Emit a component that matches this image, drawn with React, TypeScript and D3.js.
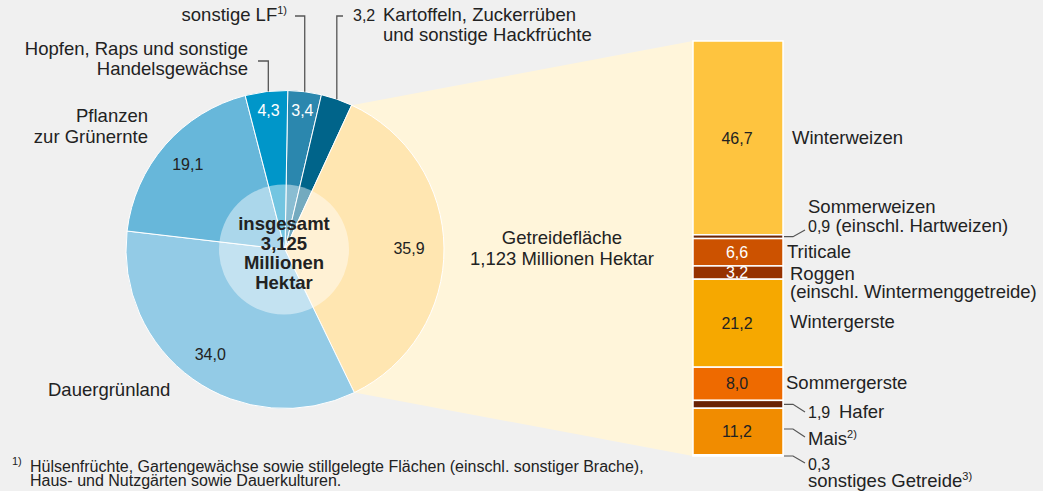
import React from "react";
import * as d3 from "d3";

// ---------- data ----------
const pieCategories = [
  "sonstige LF",
  "Kartoffeln, Zuckerrüben und sonstige Hackfrüchte",
  "Getreidefläche",
  "Dauergrünland",
  "Pflanzen zur Grünernte",
  "Hopfen, Raps und sonstige Handelsgewächse",
];
const pieValues = [3.4, 3.2, 35.9, 34.0, 19.1, 4.3];
const pieColors = ["#2b87ae", "#00648a", "#ffe6b1", "#93cbe6", "#67b7da", "#0096c9"];

const barCategories = [
  "Winterweizen",
  "Sommerweizen",
  "Triticale",
  "Roggen",
  "Wintergerste",
  "Sommergerste",
  "Hafer",
  "Mais",
  "sonstiges Getreide",
];
const barValues = [46.7, 0.9, 6.6, 3.2, 21.2, 8.0, 1.9, 11.2, 0.3];
const barColors = ["#fec43f", "#6b2306", "#cc5200", "#963200", "#f6a800", "#ee6a00", "#6a2204", "#f18c00", "#b07030"];

const totalLabel = ["insgesamt", "3,125", "Millionen", "Hektar"];
const cerealLabel = ["Getreidefläche", "1,123 Millionen Hektar"];

const fmt = (v: number) => v.toFixed(1).replace(".", ",");

const FONT = "'Liberation Sans', Arial, Helvetica, sans-serif";
const TXT = "#222";

export default function App() {
  const W = 1043, H = 491;
  const cx = 285, cy = 249.5, R = 159, rInner = 65;
  const startA = (1 * Math.PI) / 180;

  const pie = d3.pie<number>().sort(null).value((d) => d).startAngle(startA).endAngle(startA + 2 * Math.PI);
  const arcs = pie(pieValues);
  const arc = d3.arc<d3.PieArcDatum<number>>().innerRadius(0).outerRadius(R);

  const pt = (a: number, r: number): [number, number] => [cx + r * Math.sin(a), cy - r * Math.cos(a)];
  const mid = (i: number) => (arcs[i].startAngle + arcs[i].endAngle) / 2;

  // bar
  const barX = 693, barW = 90;
  const y = d3.scaleLinear().domain([0, d3.sum(barValues)]).range([41, 456]);
  const cum = barValues.reduce<number[]>((acc, v, i) => { acc.push((i ? acc[i - 1] : 0) + v); return acc; }, []);
  const segs = barValues.map((v, i) => ({ v, y0: y(cum[i] - v), y1: y(cum[i]), name: barCategories[i], color: barColors[i] }));

  const g = arcs[2];
  const gs = pt(g.startAngle, R), ge = pt(g.endAngle, R);
  const wedge = [[gs[0], gs[1]], [barX, y(0)], [barX, y(100)], [ge[0], ge[1]], [cx, cy]];

  // leader helper: x at top of arc
  const arcTopY = (x: number) => cy - Math.sqrt(R * R - (x - cx) * (x - cx));
  const xLF = pt(mid(0), R)[0];
  const xKar = pt(mid(1), R)[0];
  const xHop = pt(mid(5), R)[0] + 2;

  const valueLabelPos = (i: number) => {
    const r = pieValues[i] < 5 ? 140 : pieValues[i] > 35 ? 124 : 129;
    return pt(mid(i), r);
  };

  const segMid = (i: number) => (segs[i].y0 + segs[i].y1) / 2;

  return (
    <svg width={W} height={H} style={{ position: "absolute", left: 0, top: 0, background: "#f0f0f0" }} fontFamily={FONT}>
      <rect width={W} height={H} fill="#f0f0f0" />
      {/* wedge */}
      <polygon points={wedge.map((p) => p.join(",")).join(" ")} fill="#fff5da" />
      {/* pie slices */}
      {arcs.map((a, i) => (
        <path key={i} d={arc(a) as string} transform={`translate(${cx},${cy})`} fill={pieColors[i]} stroke="#fff" strokeWidth={1} />
      ))}
      {/* inner overlay */}
      <circle cx={cx - 1} cy={cy} r={rInner} fill="#fff" fillOpacity={0.45} />
      {/* pie value labels */}
      {arcs.map((a, i) => {
        const [x, yy] = valueLabelPos(i);
        return (
          <text key={i} x={x} y={yy} dy="0.35em" textAnchor="middle" fontSize={16} fill={pieValues[i] < 5 ? "#fff" : TXT}>
            {i === 1 ? "" : fmt(pieValues[i])}
          </text>
        );
      })}
      {/* center label */}
      {totalLabel.map((t, i) => (
        <text key={i} x={cx - 1} y={230 + i * 19.7} textAnchor="middle" fontSize={18.5} fontWeight="bold" fill={TXT}>{t}</text>
      ))}
      {/* leaders pie top */}
      <g stroke="#555" strokeWidth={1.3} fill="none">
        <polyline points={`295,16 ${xLF},16 ${xLF},${arcTopY(xLF)}`} />
        <polyline points={`343,16 ${xKar},16 ${xKar},${arcTopY(xKar)}`} />
        <polyline points={`258,61 ${xHop},61 ${xHop},${arcTopY(xHop)}`} />
      </g>
      <text x={287} y={21} textAnchor="end" fontSize={18.5} fill={TXT}>
        {pieCategories[0].replace(" LF", " LF")}
        <tspan fontSize={11} dy={-7}>1)</tspan>
      </text>
      <text x={353} y={21} fontSize={16} fill={TXT}>{fmt(pieValues[1])}</text>
      <text x={383} y={21} fontSize={18.5} fill={TXT}>Kartoffeln, Zuckerrüben</text>
      <text x={383} y={41} fontSize={18.5} fill={TXT}>und sonstige Hackfrüchte</text>
      <text x={248} y={55} textAnchor="end" fontSize={18.5} fill={TXT}>Hopfen, Raps und sonstige</text>
      <text x={248} y={75} textAnchor="end" fontSize={18.5} fill={TXT}>Handelsgewächse</text>
      <text x={148} y={122} textAnchor="end" fontSize={18.5} fill={TXT}>Pflanzen</text>
      <text x={148} y={143} textAnchor="end" fontSize={18.5} fill={TXT}>zur Grünernte</text>
      <text x={48} y={396} fontSize={18.5} fill={TXT}>{pieCategories[3]}</text>
      <text x={562} y={244} textAnchor="middle" fontSize={18.5} fill={TXT}>{cerealLabel[0]}</text>
      <text x={562} y={265} textAnchor="middle" fontSize={18.5} fill={TXT}>{cerealLabel[1]}</text>

      {/* bar */}
      {segs.map((s, i) => (
        <rect key={i} x={barX} y={s.y0} width={barW} height={Math.max(0.5, s.y1 - s.y0)} fill={s.color} stroke="#fff" strokeWidth={1.5} />
      ))}
      {segs.map((s, i) =>
        s.v >= 3 ? (
          <text key={i} x={barX + barW / 2 - 1} y={segMid(i)} dy="0.35em" textAnchor="middle" fontSize={16}
            fill={i === 2 || i === 3 ? "#fff" : TXT}>{fmt(s.v)}</text>
        ) : null
      )}
      {/* bar labels */}
      <text x={792} y={segMid(0) + 6} fontSize={18.5} fill={TXT}>{barCategories[0]}</text>
      <text x={808} y={213} fontSize={18.5} fill={TXT}>{barCategories[1]}</text>
      <text x={808} y={232} fontSize={18.5} fill={TXT}>
        <tspan fontSize={16}>{fmt(barValues[1])}</tspan> (einschl. Hartweizen)
      </text>
      <text x={787} y={258} fontSize={18.5} fill={TXT}>{barCategories[2]}</text>
      <text x={790} y={280} fontSize={18.5} fill={TXT}>{barCategories[3]}</text>
      <text x={790} y={298} fontSize={18.5} fill={TXT}>(einschl. Wintermenggetreide)</text>
      <text x={790} y={328} fontSize={18.5} fill={TXT}>{barCategories[4]}</text>
      <text x={786} y={389} fontSize={18.5} fill={TXT}>{barCategories[5]}</text>
      <text x={808} y={418} fontSize={16} fill={TXT}>{fmt(barValues[6])}</text>
      <text x={839} y={418} fontSize={18.5} fill={TXT}>{barCategories[6]}</text>
      <text x={808} y={445} fontSize={18.5} fill={TXT}>
        {barCategories[7]}
        <tspan fontSize={11} dy={-7}>2)</tspan>
      </text>
      <text x={808} y={470} fontSize={16} fill={TXT}>{fmt(barValues[8])}</text>
      <text x={808} y={487} fontSize={18.5} fill={TXT}>
        {barCategories[8]}
        <tspan fontSize={11} dy={-7}>3)</tspan>
      </text>
      <g stroke="#555" strokeWidth={1.2} fill="none">
        <polyline points={`784,${segMid(1)} 793,${segMid(1)} 805,230`} />
        <polyline points={`784,${segMid(6)} 793,${segMid(6)} 805,412`} />
        <polyline points={`784,429 793,429 805,437`} />
        <polyline points={`784,${segs[8].y1} 793,${segs[8].y1} 805,463`} />
      </g>

      {/* footnotes */}
      <text x={12} y={465} fontSize={11} fill={TXT}>1)</text>
      <text x={30} y={472} fontSize={16} fill={TXT}>Hülsenfrüchte, Gartengewächse sowie stillgelegte Flächen (einschl. sonstiger Brache),</text>
      <text x={30} y={486} fontSize={16} fill={TXT}>Haus- und Nutzgärten sowie Dauerkulturen.</text>
      <text x={12} y={499} fontSize={11} fill={TXT}>2)</text>
    </svg>
  );
}
